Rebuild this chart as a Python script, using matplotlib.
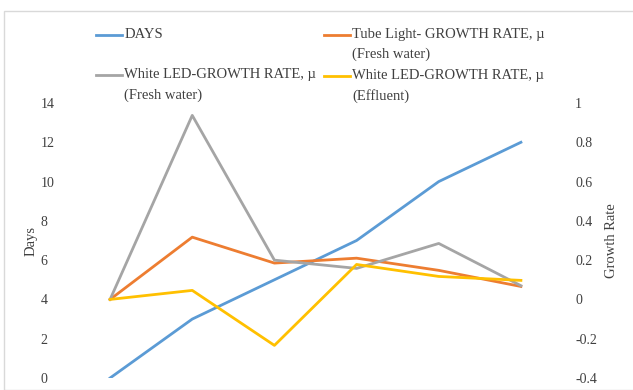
import numpy as np
import matplotlib.pyplot as plt
from matplotlib.patches import Rectangle
from matplotlib.legend_handler import HandlerLine2D

plt.rcParams['font.family'] = ['Liberation Serif', 'DejaVu Serif']

points = [1, 2, 3, 4, 5, 6]
days = [0, 3, 5, 7, 10, 12]
tube_fresh = [0, 0.317, 0.185, 0.21, 0.148, 0.066]
led_fresh = [0, 0.937, 0.20, 0.158, 0.285, 0.07]
led_effluent = [0, 0.046, -0.234, 0.178, 0.117, 0.097]

left_ticks = [0, 2, 4, 6, 8, 10, 12, 14]
right_ticks = [-0.4, -0.2, 0, 0.2, 0.4, 0.6, 0.8, 1]


class FirstLineHandler(HandlerLine2D):
    """Put the legend line next to the first row of a two-row label."""

    def __init__(self, shift=0.0, **kw):
        super().__init__(**kw)
        self.shift = shift

    def create_artists(self, legend, orig_handle, xdescent, ydescent,
                       width, height, fontsize, trans):
        arts = super().create_artists(legend, orig_handle, xdescent, ydescent,
                                      width, height, fontsize, trans)
        for a in arts:
            a.set_ydata(np.asarray(a.get_ydata()) + self.shift * fontsize)
        return arts


fig = plt.figure(figsize=(6.33, 3.9), dpi=100)
fig.patches.append(Rectangle((4 / 633, 0), 1, 1 - 11 / 390, transform=fig.transFigure,
                             fill=False, edgecolor='#d9d9d9', linewidth=1))

ax = fig.add_axes([69 / 633, 12 / 390, 493 / 633, 275 / 390])
ax2 = ax.twinx()

# "DAYS" gets an empty second row so both legend rows line up
l1, = ax.plot(points, days, color='#5B9BD5', lw=2, label='DAYS\n')
l2, = ax2.plot(points, tube_fresh, color='#ED7D31', lw=2,
               label='Tube Light- GROWTH RATE, µ\n(Fresh water)')
l3, = ax2.plot(points, led_fresh, color='#A5A5A5', lw=2,
               label='White LED-GROWTH RATE, µ\n(Fresh water)')
l4, = ax2.plot(points, led_effluent, color='#FFC000', lw=2,
               label='White LED-GROWTH RATE, µ\n(Effluent)')

ax.set_xlim(0.5, 6.5)
ax.set_ylim(0, 14)
ax2.set_ylim(-0.4, 1)
ax.set_yticks(left_ticks)
ax.set_yticklabels([str(t) for t in left_ticks], ha='left')
ax2.set_yticks(right_ticks)
ax2.set_yticklabels(['%g' % t for t in right_ticks])
ax.set_xticks([])

for a in (ax, ax2):
    for s in a.spines.values():
        s.set_visible(False)
    a.tick_params(axis='y', length=0, labelsize=10, colors='#404040')

ax.tick_params(axis='y', pad=20.5)
ax2.tick_params(axis='y', pad=9.5)
ax.set_ylabel('Days', fontsize=10.5, color='#404040')
ax2.set_ylabel('Growth Rate', fontsize=10.5, color='#404040')
ax.yaxis.set_label_coords(-0.063, 0.5)
ax2.yaxis.set_label_coords(1.087, 0.5)

two_line = FirstLineHandler(shift=0.69)
leg = fig.legend(handles=[l1, l3, l2, l4], ncol=2, loc='upper left',
                 bbox_to_anchor=(96 / 633, 1 - 28 / 390), frameon=False,
                 borderpad=0, borderaxespad=0,
                 fontsize=10.5, handlelength=1.8, handletextpad=0.15,
                 columnspacing=0.5, labelspacing=0.5, labelcolor='#404040',
                 handler_map={l1: two_line, l2: two_line, l3: two_line, l4: two_line})
for t in leg.get_texts():
    t.set_linespacing(1.67)

fig.savefig('out.png', dpi=100)
